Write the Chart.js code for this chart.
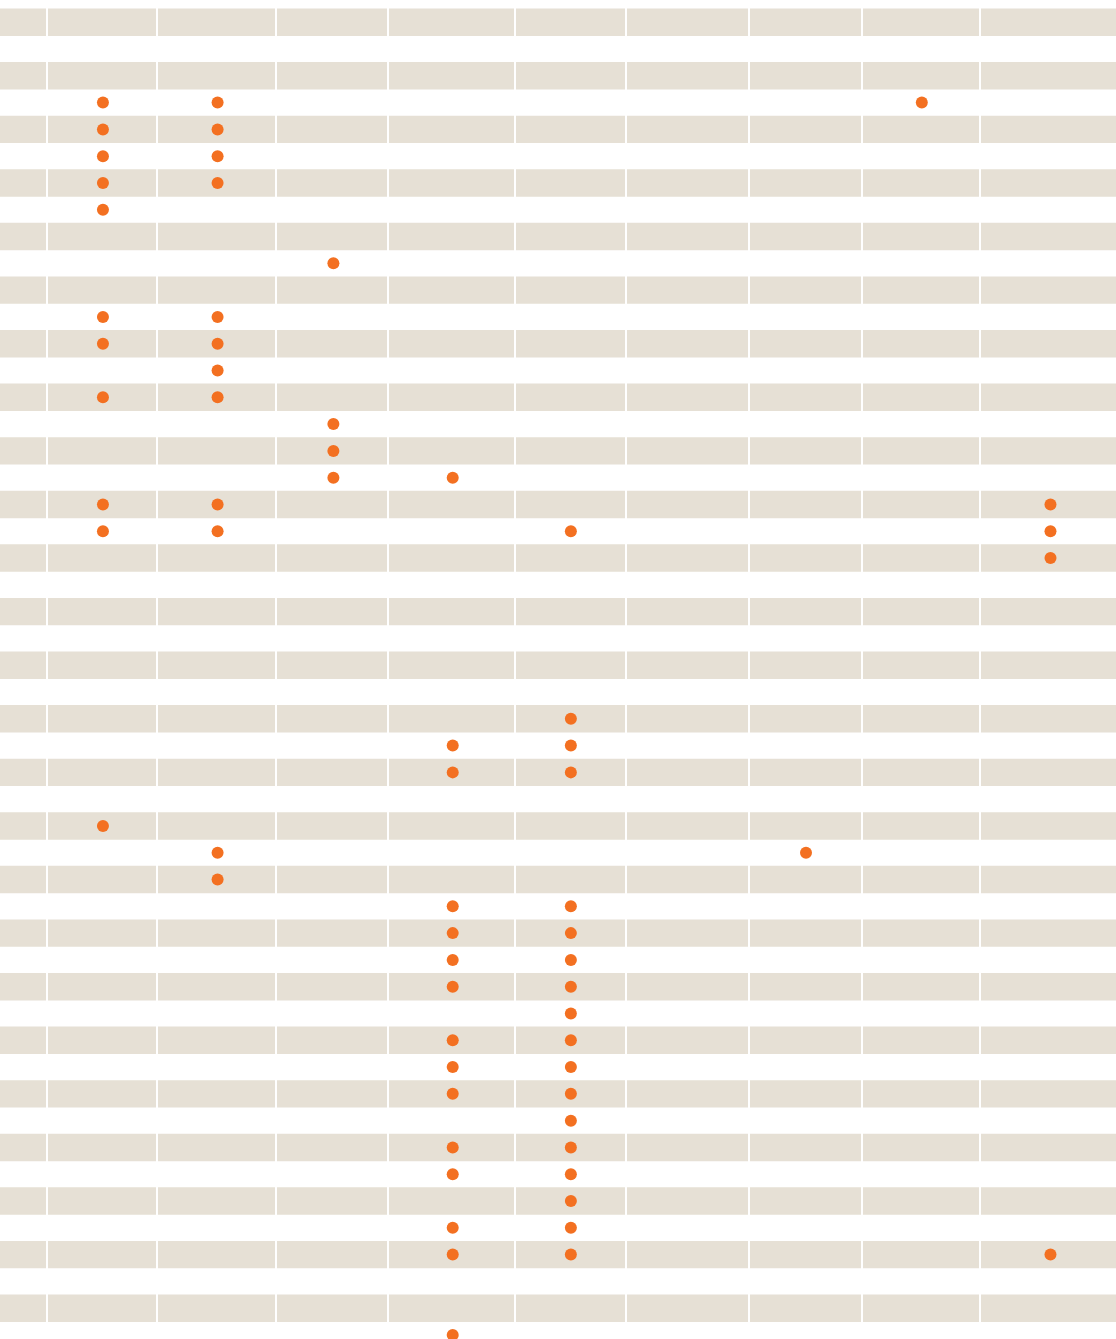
<!DOCTYPE html>
<html>
<head>
<meta charset="utf-8">
<script src="https://cdn.jsdelivr.net/npm/chart.js@4/dist/chart.umd.min.js"></script>
<style>
  html, body { margin: 0; padding: 0; background: #ffffff; }
  #wrap { position: relative; width: 1116px; height: 1339px; }
</style>
</head>
<body>
<div id="wrap"><canvas id="dotMatrixCanvas"></canvas></div>
<script>
// column positions (x axis units, column 1 .. 9)
const columnCenters = [1.01, 1.99, 2.98, 4.00, 5.01, 6.01, 7.02, 8.01, 9.11];
// separators between the columns
const columnEdges = [0.53, 1.47, 2.49, 3.45, 4.53, 5.48, 6.53, 7.50, 8.51];

// row numbers (0 = top) that carry a dot, one list per column
const col1 = [3, 4, 5, 6, 7, 11, 12, 14, 18, 19, 30];
const col2 = [3, 4, 5, 6, 11, 12, 13, 14, 18, 19, 31, 32];
const col3 = [9, 15, 16, 17];
const col4 = [17, 27, 28, 33, 34, 35, 36, 38, 39, 40, 42, 43, 45, 46, 49];
const col5 = [19, 26, 27, 28, 33, 34, 35, 36, 37, 38, 39, 40, 41, 42, 43, 44, 45, 46];
const col6 = [];
const col7 = [31];
const col8 = [3];
const col9 = [18, 19, 20, 46];

const rowCount = 50;
const xMin = 0.13, xMax = 9.67;
const yMin = -0.83, yMax = 49.15;

let dotMatrixChart;

function generateDotMatrix() {
    const columns = [col1, col2, col3, col4, col5, col6, col7, col8, col9];
    let dots = [];
    columns.forEach(function (rows, i) {
        rows.forEach(function (r) {
            dots.push({ x: columnCenters[i], y: r });
        });
    });

    // shaded rows: every other one, starting with the first
    let stripes = [];
    for (let r = 0; r < rowCount; r += 2) {
        stripes.push({ x: [xMin, xMax], y: r });
    }

    let ctx = document.getElementById('dotMatrixCanvas').getContext('2d');
    dotMatrixChart = new Chart(ctx, {
        data: {
            datasets: [{
                type: 'scatter',
                data: dots,
                backgroundColor: '#f37021',
                borderWidth: 0,
                pointRadius: 6,
                pointHoverRadius: 6,
                order: 0
            }, {
                type: 'bar',
                indexAxis: 'y',
                data: stripes,
                backgroundColor: '#e6e0d5',
                borderWidth: 0,
                barPercentage: 1,
                categoryPercentage: 1,
                order: 1
            }]
        },
        options: {
            responsive: true,
            maintainAspectRatio: false,
            animation: false,
            events: [],
            layout: { padding: 0, autoPadding: false },
            plugins: {
                legend: { display: false },
                tooltip: { enabled: false },
                title: { display: false }
            },
            scales: {
                x: {
                    type: 'linear',
                    min: xMin,
                    max: xMax,
                    offset: false,
                    beginAtZero: false,
                    afterBuildTicks: function (scale) {
                        scale.ticks = columnEdges.map(function (v) { return { value: v }; });
                    },
                    ticks: { display: false },
                    grid: {
                        color: '#ffffff',
                        lineWidth: 2,
                        drawTicks: false,
                        offset: false,
                        z: 1
                    },
                    border: { display: false }
                },
                y: {
                    type: 'linear',
                    min: yMin,
                    max: yMax,
                    reverse: true,
                    offset: false,
                    display: false,
                    // one tick per row, so a shaded bar is exactly one row tall
                    afterBuildTicks: function (scale) {
                        let t = [];
                        for (let r = 0; r < rowCount; r++) t.push({ value: r });
                        scale.ticks = t;
                    },
                    grid: { offset: false }
                }
            }
        }
    });
}

generateDotMatrix();
</script>
</body>
</html>
